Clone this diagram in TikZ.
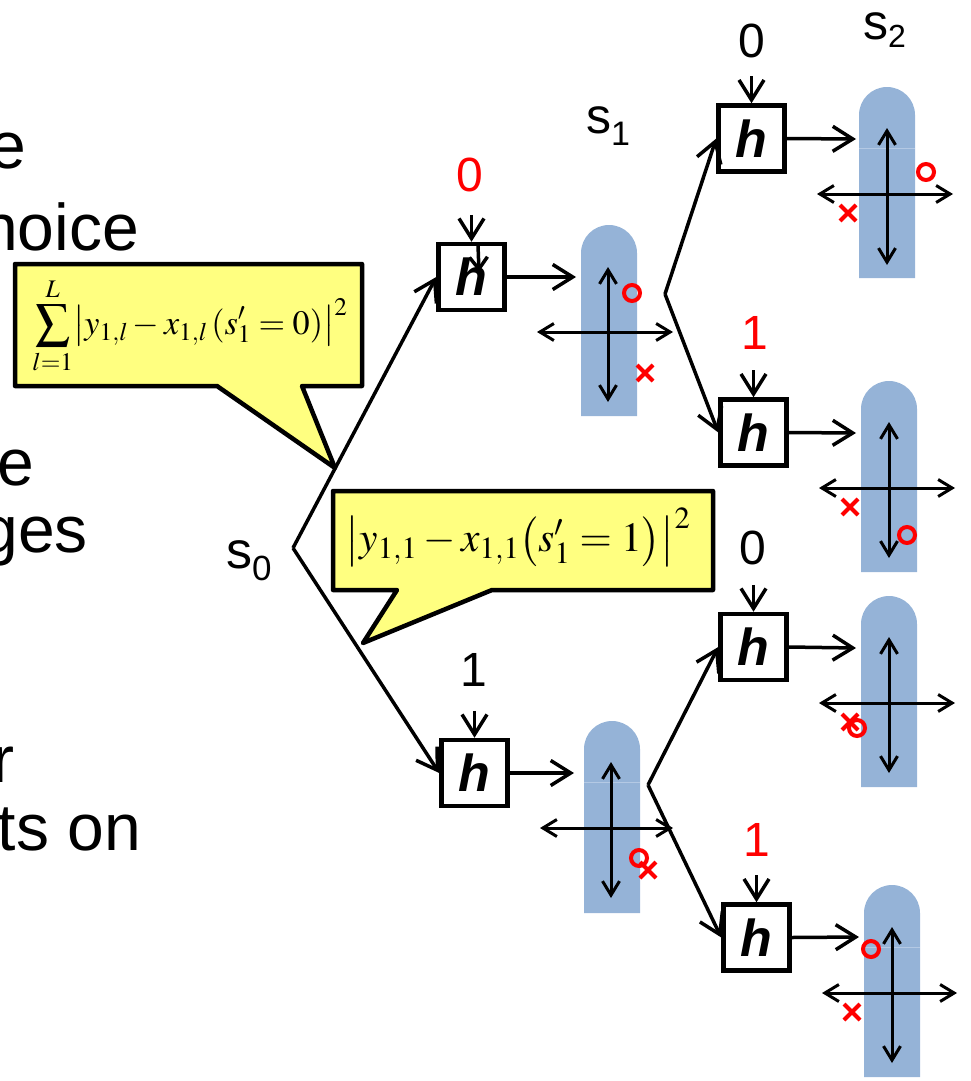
\documentclass[tikz,border=0pt]{standalone}
\usepackage{mathptmx}
\usepackage[no-math]{fontspec}
\setmainfont{Liberation Sans}
\usetikzlibrary{arrows.meta}
\definecolor{blob}{RGB}{149,179,215}
\definecolor{seam}{RGB}{180,201,228}
\definecolor{callfill}{RGB}{255,255,128}
\tikzset{
  hbox/.style={draw, line width=4.5pt, minimum width=66pt, minimum height=66pt, inner sep=0pt,
    font=\fontsize{52}{60}\selectfont\bfseries\itshape},
  conn/.style={line width=3.5pt, -{Straight Barb[length=20pt,width=25pt]}},
  axis/.style={line width=3pt, {Straight Barb[length=14pt,width=17pt]}-{Straight Barb[length=14pt,width=17pt]}},
  lbl/.style={font=\fontsize{48}{56}\selectfont, inner sep=0pt},
  frag/.style={font=\fontsize{66}{78}\selectfont, inner sep=0pt, anchor=base east},
  callout/.style={draw, fill=callfill, line width=4.5pt, line join=round},
  redmark/.style={draw=red, line width=4pt},
}
\newcommand\myblob[5]{%
  \fill[blob] (#1,#4) -- (#1,{#3+28}) arc[start angle=180, end angle=360, radius=28] -- (#2,#4) -- cycle;
  \ifx\relax#5\relax\else\draw[seam, line width=1pt] (#1,#5) -- (#2,#5);\fi}
\newcommand\myaxes[6]{%
  \draw[axis] (#1,#2) -- (#1,#3);
  \draw[axis] (#5,#4) -- (#6,#4);}
\newcommand\omk[2]{\draw[redmark] (#1,#2) circle[radius=8pt];}
\newcommand\xmk[2]{\draw[redmark] (#1-8,#2-8) -- (#1+8,#2+8) (#1-8,#2+8) -- (#1+8,#2-8);}
\begin{document}
\begin{tikzpicture}[x=1pt, y=-1pt]
\useasboundingbox (0,0) rectangle (971,1081);

% left text fragments (cut off at the left edge in the original)
\node[frag] (t1) at (26,168) {e};
\node[frag] (t2) at (139,250) {hoice};
\node[frag] (t3) at (34,485) {e};
\node[frag] (t4) at (88,552) {ges};
\node[frag] (t5) at (15,782) {r};
\node[frag] (t6) at (141,850) {ts on};

% state labels
\node[anchor=base west, inner sep=0pt, font=\fontsize{52}{60}\selectfont] (s0) at (226,568)
  {s\raisebox{-12pt}{\fontsize{35}{40}\selectfont 0}};
\node[anchor=base west, inner sep=0pt, font=\fontsize{50}{60}\selectfont] (s1) at (586,133)
  {s\raisebox{-12pt}{\fontsize{34}{40}\selectfont 1}};
\node[anchor=base west, inner sep=0pt, font=\fontsize{50}{60}\selectfont] (s2) at (863,40)
  {s\raisebox{-8pt}{\fontsize{32}{40}\selectfont 2}};

% blobs
\myblob{581}{637}{225}{416}{}
\myblob{584}{640}{721}{913}{782}
\myblob{859}{915}{87}{278}{148}
\myblob{861}{917}{381}{572}{}
\myblob{861}{917}{596}{787}{}
\myblob{864}{920}{885}{1077}{947}

% h boxes
\node[hbox] (h1) at (471.5,277) {h};
\node[hbox] (h2) at (474.5,773) {h};
\node[hbox] (hA) at (751.5,138.5) {h};
\node[hbox] (hB) at (753.5,432.5) {h};
\node[hbox] (hC) at (753.5,647) {h};
\node[hbox] (hD) at (756.5,937.5) {h};

% labels above boxes
\node[lbl, red] (l1) at (470,175) {0};
\node[lbl] (l2) at (474,670) {1};
\node[lbl] (lA) at (752,41) {0};
\node[lbl, red] (lB) at (755,333) {1};
\node[lbl] (lC) at (753,548) {0};
\node[lbl, red] (lD) at (757,840) {1};

\foreach \b in {h1,h2,hA,hB,hC,hD}{
  \draw[conn] ([yshift=27pt]\b.north) -- (\b.north);
}
\draw[line width=3.5pt, -{Straight Barb[length=12pt,width=18pt]}] (478,245) -- (479,272);

% arrows into blobs
\coordinate (e1) at (576,277);
\coordinate (e2) at (574,773);
\coordinate (eA) at (856,139);
\coordinate (eB) at (856,433);
\coordinate (eC) at (856,648);
\coordinate (eD) at (859,937);
\draw[conn] (h1.east) -- (e1);
\draw[conn] (h2.east) -- (e2);
\draw[conn] (hA.east) -- (eA);
\draw[conn] (hB.east) -- (eB);
\draw[conn] (hC.east) -- (eC);
\draw[conn] (hD.east) -- (eD);

% axes
\myaxes{608}{267}{402}{332}{537}{673}
\myaxes{611}{762}{898}{828}{540}{673}
\myaxes{887}{128}{265}{194}{817}{953}
\myaxes{889}{422}{558}{488}{819}{955}
\myaxes{889}{637}{773}{703}{819}{955}
\myaxes{892}{927}{1063}{993}{822}{957}

% marks
\omk{632}{293} \xmk{645}{373}
\omk{639}{858} \xmk{648}{870}
\omk{926}{172} \xmk{848}{213}
\xmk{850}{507} \omk{907}{535}
\xmk{850}{722} \omk{857}{728}
\omk{871}{949} \xmk{852}{1012}

% tree
\coordinate (s0v) at (293,548);
\coordinate (v1) at (665,294);
\coordinate (v2) at (648,785);
\draw[conn] (s0v) -- (h1.west);
\draw[conn] (s0v) -- (h2.west);
\draw[conn] (v1) -- (hA.west);
\draw[conn] (v1) -- (hB.west);
\draw[conn] (v2) -- (hC.west);
\draw[conn] (v2) -- (hD.west);

% callouts
\draw[callout] (15,264) -- (362,264) -- (362,386) -- (302,386) -- (335,468) -- (217,386) -- (15,386) -- cycle;
\draw[callout] (333,491) -- (713,491) -- (713,590) -- (492,590) -- (363,643) -- (397,590) -- (333,590) -- cycle;
\node[inner sep=0pt] (f1) at (190,326) {\resizebox{315pt}{!}{\fontsize{40}{48}\selectfont
  $\displaystyle\sum_{l=1}^{L}\bigl|y_{1,l}-x_{1,l}\,(s_1'=0)\bigr|^{2}$}};
\node[inner sep=0pt] (f2) at (518,537) {\resizebox{345pt}{!}{\fontsize{44}{52}\selectfont
  $\bigl|y_{1,1}-x_{1,1}\bigl(s_1'=1\bigr)\bigr|^{2}$}};
\end{tikzpicture}
\end{document}
